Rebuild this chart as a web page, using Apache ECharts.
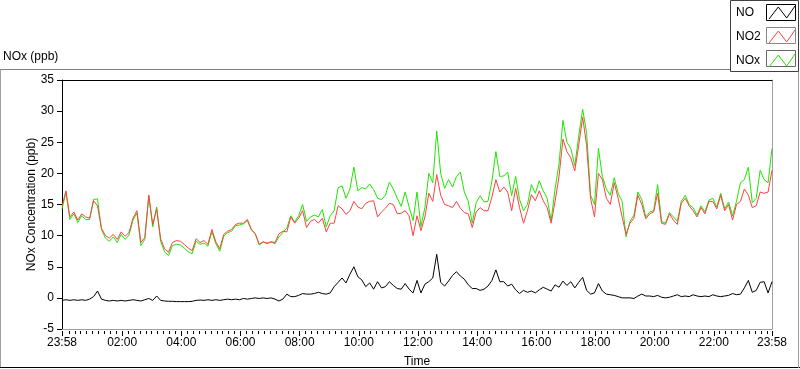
<!DOCTYPE html>
<html><head><meta charset="utf-8">
<script src="https://cdn.jsdelivr.net/npm/echarts@6/dist/echarts.min.js"></script>
<style>html,body{margin:0;padding:0;background:#fff;}#c{width:800px;height:369px;}</style>
</head><body><div id="c"></div>
<script>
const FONT = 'Liberation Sans';
const STEP_MIN = 8; // minutes between samples, starting at 23:58

const xTickMinutes = [0,122,242,362,482,602,722,842,962,1082,1202,1322,1440];
const xTickLabels = ['23:58','02:00','04:00','06:00','08:00','10:00','12:00','14:00','16:00','18:00','20:00','22:00','23:58'];
const seriesNames = ['NO','NO2','NOx'];

const NO2 = [14.7,17.2,13.0,13.8,12.5,13.5,13.0,12.8,15.6,14.8,11.2,10.0,9.6,10.2,9.4,10.6,9.9,10.5,12.8,14.0,8.9,9.7,16.5,11.8,14.3,9.5,7.9,7.3,8.9,9.2,9.1,8.6,8.0,7.6,9.5,8.9,9.2,8.6,11.0,9.0,7.9,10.2,10.7,11.0,11.8,12.0,12.0,12.6,11.0,10.3,8.6,9.0,8.8,9.0,8.9,10.3,10.7,10.6,13.0,12.0,12.8,
14.0,11.3,12.3,12.6,12.0,12.8,10.6,12.0,12.0,14.8,14.3,13.4,14.0,15.5,14.6,14.3,15.2,15.5,15.6,13.0,13.8,14.4,15.2,15.0,13.5,13.6,14.0,13.2,10.0,13.2,10.8,13.0,16.8,15.5,19.8,16.5,15.0,14.8,14.5,15.5,14.4,13.7,13.5,11.3,13.8,14.5,14.0,14.0,16.2,19.0,17.0,17.8,17.0,14.0,17.6,14.5,12.0,14.0,16.6,15.6,17.2,15.6,14.5,
12.0,15.5,19.5,25.5,23.5,22.5,20.4,24.5,29.0,24.5,16.0,13.0,20.0,19.0,16.0,15.0,18.5,16.0,13.0,10.2,12.0,12.8,16.5,15.0,12.7,13.5,13.8,16.8,12.0,11.8,13.5,12.5,11.8,15.2,16.0,14.8,14.0,13.0,14.5,13.5,15.5,15.5,14.3,16.5,14.0,15.0,12.5,15.0,15.5,17.5,16.5,14.5,14.8,17.0,16.8,17.0,20.5];

const NOX = [14.3,16.9,12.6,13.5,12.1,13.2,12.6,12.6,15.8,15.9,11.0,9.6,9.1,9.8,8.9,10.2,9.4,10.1,12.5,13.6,8.4,9.4,16.4,11.4,14.6,9.1,7.4,6.8,8.4,8.6,8.5,8.0,7.4,7.1,9.1,8.6,8.8,8.3,10.6,8.7,7.5,9.9,10.5,10.7,11.6,11.7,11.9,12.4,10.9,10.3,8.5,9.0,8.7,9.0,8.7,9.8,10.5,11.2,13.2,12.2,13.2,
15.0,12.3,13.0,13.3,13.0,14.2,11.4,13.2,14.0,17.7,18.0,16.0,17.5,21.0,17.2,17.7,17.5,18.3,17.4,16.0,15.8,16.5,18.6,17.5,16.0,14.7,17.0,14.6,12.4,17.0,11.5,14.5,20.0,18.5,26.8,20.0,17.6,19.0,17.8,19.5,20.2,17.0,15.5,12.0,15.3,16.4,15.4,15.5,18.8,23.5,19.5,19.6,20.2,16.4,19.5,15.8,14.0,15.0,18.2,16.8,18.8,17.2,16.0,
12.4,17.5,21.5,28.5,25.0,24.0,21.2,26.0,30.3,26.5,16.5,15.0,24.0,19.5,17.5,16.5,19.3,16.8,15.5,9.8,12.3,13.3,17.0,15.8,13.0,13.8,14.0,18.2,12.3,12.0,13.7,13.0,12.3,15.5,16.5,15.0,14.5,13.3,14.8,13.8,15.7,16.0,14.6,16.8,14.3,15.4,13.2,15.5,18.5,19.0,21.0,15.3,16.0,20.5,19.0,18.5,24.0];

const NO = [-0.4,-0.3,-0.4,-0.3,-0.4,-0.3,-0.4,-0.2,0.2,1.1,-0.2,-0.4,-0.5,-0.4,-0.5,-0.4,-0.5,-0.4,-0.3,-0.4,-0.5,-0.3,-0.1,-0.4,0.3,-0.4,-0.5,-0.55,-0.55,-0.6,-0.6,-0.6,-0.6,-0.55,-0.4,-0.35,-0.4,-0.3,-0.4,-0.3,-0.4,-0.3,-0.2,-0.3,-0.2,-0.3,-0.1,-0.2,-0.1,0.0,-0.1,0.0,-0.1,0.0,-0.2,-0.5,-0.2,0.6,0.2,0.2,0.4,
0.7,0.6,0.6,0.7,0.9,0.7,0.6,0.8,1.8,2.5,3.2,2.4,3.8,5.0,3.4,2.9,1.8,2.4,1.4,2.6,1.6,1.8,2.6,2.0,1.5,1.4,2.3,1.4,0.8,2.8,
0.8,2.2,2.6,3.2,7.0,2.5,1.9,2.7,3.6,4.2,3.5,3.0,2.1,1.5,1.5,1.2,1.4,1.9,2.8,4.5,2.6,2.6,1.9,2.2,1.3,0.7,1.2,0.9,1.1,0.8,1.3,1.7,1.4,1.1,2.1,1.7,2.7,2.0,2.6,1.6,2.5,3.3,1.2,0.6,0.8,2.3,1.1,0.6,0.5,0.4,0.2,0.0,0.0,0.0,-0.1,0.3,0.6,0.3,0.3,0.2,0.4,0.1,0.0,0.1,0.3,0.5,0.2,0.3,0.2,0.5,0.3,0.2,0.3,0.2,0.5,0.3,0.2,0.3,0.4,0.7,0.5,0.6,1.6,2.8,0.9,1.2,2.5,2.6,0.8,2.6];

const RED = '#ff4040', GREEN = '#1ee600', BLACK = '#000000';
const ZIG = 'path://M0,12.6L9.3,1L17.7,11.6L26,0';

const toPts = arr => arr.map((v, i) => [i * STEP_MIN, v]);

const minorTicks = [];
for (let m = 14; m < 1440; m += 12) { if ((m - 2) % 120 !== 0) minorTicks.push(m); }

const txt = {color: '#000', fontFamily: FONT, fontSize: 12};
const xBase = {type: 'value', min: 0, max: 1440, splitLine: {show: false}, axisLabel: {show: false}, axisTick: {show: false}, axisLine: {show: false, onZero: false}};

const chart = echarts.init(document.getElementById('c'), null, {renderer: 'canvas'});
chart.setOption({
  animation: false,
  backgroundColor: '#ffffff',
  textStyle: {fontFamily: FONT},
  title: {text: 'NOx (ppb)', left: 3, top: 51, padding: 0, textStyle: Object.assign({fontWeight: 'normal'}, txt)},
  legend: {
    data: [
      {name: seriesNames[0], icon: ZIG, itemStyle: {color: 'rgba(0,0,0,0)', borderColor: BLACK, borderWidth: 1}},
      {name: seriesNames[1], icon: ZIG, itemStyle: {color: 'rgba(0,0,0,0)', borderColor: RED, borderWidth: 1}},
      {name: seriesNames[2], icon: ZIG, itemStyle: {color: 'rgba(0,0,0,0)', borderColor: GREEN, borderWidth: 1}}
    ],
    orient: 'vertical', left: 736, top: 5.5, padding: 0,
    itemWidth: 26, itemHeight: 13, itemGap: 10, align: 'right',
    selectedMode: false, symbolKeepAspect: false,
    formatter: '{t|{name}}',
    textStyle: Object.assign({rich: {t: {width: 28, align: 'left', fontSize: 12, fontFamily: FONT, lineHeight: 13, color: '#000'}}}, txt)
  },
  grid: {left: 62, top: 80, right: 28, bottom: 40, containLabel: false, outerBoundsMode: 'none'},
  xAxis: [
    Object.assign({}, xBase, {position: 'bottom', axisLine: {show: true, onZero: false, lineStyle: {color: '#a0a0a0', width: 1}}}),
    Object.assign({}, xBase, {position: 'top', axisLine: {show: true, onZero: false, lineStyle: {color: '#000', width: 1}}}),
    Object.assign({}, xBase, {
      position: 'bottom', offset: 2,
      axisTick: {show: true, length: 5, lineStyle: {color: '#000'}, customValues: xTickMinutes},
      axisLabel: Object.assign({show: true, customValues: xTickMinutes, margin: 6,
        formatter: v => { const k = xTickMinutes.indexOf(Math.round(v)); return k >= 0 ? xTickLabels[k] : ''; }}, txt),
      name: 'Time', nameLocation: 'middle', nameGap: 25, nameMoveOverlap: false, nameTextStyle: txt
    }),
    Object.assign({}, xBase, {position: 'bottom', offset: 2, axisTick: {show: true, length: 3, lineStyle: {color: '#000'}, customValues: minorTicks}})
  ],
  yAxis: [
    {type: 'value', min: -5, max: 35, interval: 5, position: 'left',
      axisLine: {show: true, onZero: false, lineStyle: {color: '#000'}},
      axisTick: {show: true, length: 5, lineStyle: {color: '#000'}},
      axisLabel: Object.assign({margin: 8}, txt),
      splitLine: {show: false},
      name: 'NOx Concentration (ppb)', nameLocation: 'middle', nameGap: 24, nameMoveOverlap: false, nameTextStyle: txt},
    {type: 'value', min: -5, max: 35, interval: 5, position: 'right',
      axisLine: {show: true, onZero: false, lineStyle: {color: '#a0a0a0'}},
      axisTick: {show: false}, axisLabel: {show: false}, splitLine: {show: false}}
  ],
  series: [
    {name: 'NOx', type: 'line', data: toPts(NOX), symbol: 'none', showSymbol: false, lineStyle: {width: 1, color: GREEN}, itemStyle: {color: GREEN}, z: 2},
    {name: 'NO2', type: 'line', data: toPts(NO2), symbol: 'none', showSymbol: false, lineStyle: {width: 1, color: RED}, itemStyle: {color: RED}, z: 3},
    {name: 'NO', type: 'line', data: toPts(NO), symbol: 'none', showSymbol: false, lineStyle: {width: 1, color: BLACK}, itemStyle: {color: BLACK}, z: 4}
  ],
  graphic: [
    {type: 'line', silent: true, shape: {x1: 0, y1: 69.5, x2: 730, y2: 69.5}, style: {stroke: '#808080', lineWidth: 1}},
    {type: 'line', silent: true, shape: {x1: 0.5, y1: 69.5, x2: 0.5, y2: 368}, style: {stroke: '#a0a0a0', lineWidth: 1}},
    {type: 'line', silent: true, shape: {x1: 0, y1: 367.5, x2: 800, y2: 367.5}, style: {stroke: '#000', lineWidth: 1}},
    {type: 'line', silent: true, shape: {x1: 798.5, y1: 72, x2: 798.5, y2: 368}, style: {stroke: '#a0a0a0', lineWidth: 1}},
    {type: 'rect', silent: true, shape: {x: 730.5, y: 0.5, width: 68, height: 71}, style: {fill: 'none', stroke: '#404040', lineWidth: 1}},
    {type: 'rect', silent: true, shape: {x: 766.5, y: 4.5, width: 29, height: 16}, style: {fill: 'none', stroke: '#000', lineWidth: 1}},
    {type: 'rect', silent: true, shape: {x: 766.5, y: 27.5, width: 29, height: 16}, style: {fill: 'none', stroke: '#888', lineWidth: 1}},
    {type: 'rect', silent: true, shape: {x: 766.5, y: 50.5, width: 29, height: 16}, style: {fill: 'none', stroke: '#666', lineWidth: 1}}
  ]
});
</script>
</body></html>
